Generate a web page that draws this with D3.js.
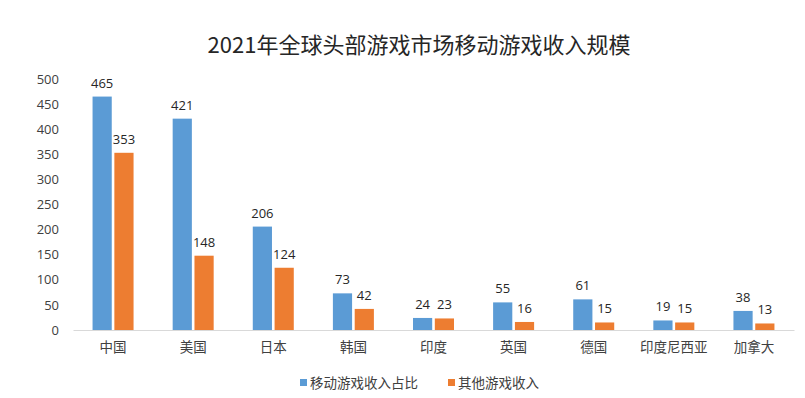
<!DOCTYPE html>
<html>
<head>
<meta charset="utf-8">
<script src="https://cdn.jsdelivr.net/npm/d3@7"></script>
<style>
  body { margin: 0; background: #fff; }
  text { font-family: "Noto Sans CJK SC", "Noto Sans", sans-serif; }
</style>
</head>
<body>
<div id="chart"></div>
<script>
const categories = ["中国", "美国", "日本", "韩国", "印度", "英国", "德国", "印度尼西亚", "加拿大"];
const mobile_values = [465, 421, 206, 73, 24, 55, 61, 19, 38];
const other_values = [353, 148, 124, 42, 23, 16, 15, 15, 13];
const series_names = ["移动游戏收入占比", "其他游戏收入"];
const series_colors = ["#5B9BD5", "#ED7D31"];
const y_ticks = [0, 50, 100, 150, 200, 250, 300, 350, 400, 450, 500];

const full_width = 805, full_height = 398;
const margin = {top: 79, right: 11, bottom: 68, left: 73};
const width = full_width - margin.left - margin.right;
const height = full_height - margin.top - margin.bottom;

const svg = d3.select("#chart").append("svg")
    .attr("width", full_width)
    .attr("height", full_height);

svg.append("text")
    .attr("x", 419)
    .attr("y", 53)
    .attr("text-anchor", "middle")
    .attr("font-size", 22)
    .attr("fill", "#262626")
    .text("2021年全球头部游戏市场移动游戏收入规模");

const g = svg.append("g")
    .attr("transform", "translate(" + margin.left + "," + margin.top + ")");

const x = d3.scaleBand().domain(categories).range([0, width]);
const x_inner = d3.scaleBand().domain([0, 1]).range([0, 41]).paddingInner(0.12);
const y = d3.scaleLinear().domain([0, 500]).range([height, 0]);

// y axis labels only
g.append("g")
    .call(d3.axisLeft(y).tickValues(y_ticks).tickSize(0).tickPadding(14))
    .call(a => a.select(".domain").remove())
    .selectAll("text")
    .attr("font-size", 13)
    .attr("fill", "#404040")
    .style("font-family", "'Open Sans', sans-serif");

const groups = g.selectAll(".grp")
    .data(categories)
    .enter().append("g")
    .attr("transform", d => "translate(" + (x(d) + (x.bandwidth() - 41) / 2) + ",0)");

[mobile_values, other_values].forEach(function (vals, s) {
    groups.append("rect")
        .attr("x", x_inner(s))
        .attr("width", x_inner.bandwidth())
        .attr("y", (d, i) => y(vals[i]))
        .attr("height", (d, i) => height - y(vals[i]))
        .attr("fill", series_colors[s]);

    groups.append("text")
        .attr("x", x_inner(s) + x_inner.bandwidth() / 2)
        .attr("y", (d, i) => y(vals[i]) - 9)
        .attr("text-anchor", "middle")
        .attr("font-size", 13)
        .attr("fill", "#262626")
        .style("font-family", "'Open Sans', sans-serif")
        .text((d, i) => vals[i]);
});

// x axis
g.append("g")
    .attr("transform", "translate(0," + height + ")")
    .call(d3.axisBottom(x).tickSize(0).tickPadding(12))
    .call(a => a.select(".domain").attr("stroke", "#d9d9d9"))
    .selectAll("text")
    .attr("font-size", 13.5)
    .attr("fill", "#404040");

// legend
const legend = svg.append("g").attr("transform", "translate(300,383)");
const legend_x = [0, 148];
series_names.forEach(function (name, i) {
    legend.append("rect")
        .attr("x", legend_x[i])
        .attr("y", -4)
        .attr("width", 7)
        .attr("height", 7)
        .attr("fill", series_colors[i]);
    legend.append("text")
        .attr("x", legend_x[i] + 10)
        .attr("y", 0)
        .attr("dy", "0.35em")
        .attr("font-size", 13.5)
        .attr("fill", "#404040")
        .text(name);
});
</script>
</body>
</html>
